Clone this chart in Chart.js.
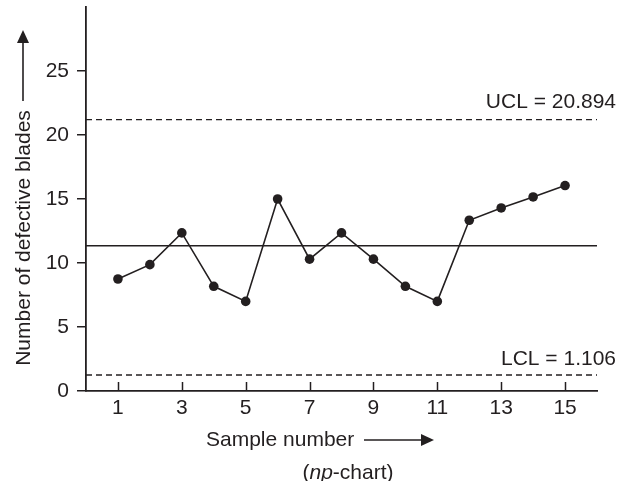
<!DOCTYPE html>
<html>
<head>
<meta charset="utf-8">
<script src="https://cdn.jsdelivr.net/npm/chart.js@4.4.1/dist/chart.umd.min.js"></script>
<style>
  html, body { margin: 0; padding: 0; background: #fff; }
  #wrap { width: 618px; height: 481px; }
</style>
</head>
<body>
<div id="wrap"><canvas id="npChart" width="618" height="481"></canvas></div>
<script>
// np-chart data
const samples = [1, 2, 3, 4, 5, 6, 7, 8, 9, 10, 11, 12, 13, 14, 15];
const defectives = [8.75, 9.87, 12.35, 8.18, 7.0, 15.0, 10.3, 12.35, 10.3, 8.18, 7.0, 13.34, 14.3, 15.16, 16.05];
const xTicks = [1, 3, 5, 7, 9, 11, 13, 15];
const yTicks = [0, 5, 10, 15, 20, 25];
const xRange = [0, 16];
const yRange = [0, 30];
const uclValue = 21.2;
const centerValue = 11.35;
const lclValue = 1.25;
const uclText = 'UCL = 20.894';
const lclText = 'LCL = 1.106';

const INK = '#231f20';
const FONT = '"Liberation Sans", Arial, sans-serif';
const SIZE = 21;

function hLine(y) {
  return xRange.map(x => ({ x: x, y: y }));
}

const points = samples.map((s, i) => ({ x: s, y: defectives[i] }));

function arrowHead(ctx, x, y, dir) {
  // dir: 'up' or 'right', tip at (x, y)
  ctx.beginPath();
  if (dir === 'up') {
    ctx.moveTo(x, y);
    ctx.lineTo(x - 6, y + 13);
    ctx.lineTo(x + 6, y + 13);
  } else {
    ctx.moveTo(x, y);
    ctx.lineTo(x - 13, y - 6);
    ctx.lineTo(x - 13, y + 6);
  }
  ctx.closePath();
  ctx.fill();
}

const extras = {
  id: 'extras',
  afterDraw(chart) {
    const ctx = chart.ctx;
    const xs = chart.scales.x;
    const ys = chart.scales.y;
    const area = chart.chartArea;
    ctx.save();
    ctx.strokeStyle = INK;
    ctx.fillStyle = INK;

    // inward tick marks on the x axis
    ctx.lineWidth = 1.5;
    xTicks.forEach(t => {
      const px = Math.round(xs.getPixelForValue(t)) + 0.5;
      ctx.beginPath();
      ctx.moveTo(px, area.bottom);
      ctx.lineTo(px, area.bottom - 9);
      ctx.stroke();
    });

    // control limit labels
    ctx.font = SIZE + 'px ' + FONT;
    ctx.textAlign = 'right';
    ctx.textBaseline = 'bottom';
    ctx.fillText(uclText, chart.width - 2, ys.getPixelForValue(uclValue) - 7);
    ctx.fillText(lclText, chart.width - 2, ys.getPixelForValue(lclValue) - 5);

    // y title with arrow
    ctx.save();
    ctx.translate(23, 238);
    ctx.rotate(-Math.PI / 2);
    ctx.textAlign = 'center';
    ctx.textBaseline = 'middle';
    ctx.fillText('Number of defective blades', 0, 1);
    ctx.restore();
    ctx.lineWidth = 1.6;
    ctx.beginPath();
    ctx.moveTo(23, 101);
    ctx.lineTo(23, 40);
    ctx.stroke();
    arrowHead(ctx, 23, 30, 'up');

    // x title with arrow
    const xMid = 440;
    ctx.textAlign = 'left';
    ctx.textBaseline = 'middle';
    ctx.fillText('Sample number', 206, xMid);
    ctx.beginPath();
    ctx.moveTo(364, xMid);
    ctx.lineTo(424, xMid);
    ctx.stroke();
    arrowHead(ctx, 434, xMid, 'right');

    // caption "(np-chart)"
    const parts = [
      { t: '(', f: SIZE + 'px ' + FONT },
      { t: 'np', f: 'italic ' + SIZE + 'px ' + FONT },
      { t: '-chart)', f: SIZE + 'px ' + FONT }
    ];
    let total = 0;
    parts.forEach(p => { ctx.font = p.f; total += ctx.measureText(p.t).width; });
    let cx = 348 - total / 2;
    parts.forEach(p => {
      ctx.font = p.f;
      ctx.fillText(p.t, cx, 473);
      cx += ctx.measureText(p.t).width;
    });

    ctx.restore();
  }
};

new Chart(document.getElementById('npChart'), {
  type: 'line',
  data: {
    datasets: [
      {
        label: 'defectives',
        data: points,
        borderColor: INK,
        backgroundColor: INK,
        borderWidth: 1.6,
        pointRadius: 4.8,
        pointBackgroundColor: INK,
        pointBorderWidth: 0,
        tension: 0
      },
      {
        label: 'UCL',
        data: hLine(uclValue),
        borderColor: INK,
        borderWidth: 1.4,
        borderDash: [6, 4],
        pointRadius: 0
      },
      {
        label: 'CL',
        data: hLine(centerValue),
        borderColor: INK,
        borderWidth: 1.4,
        pointRadius: 0
      },
      {
        label: 'LCL',
        data: hLine(lclValue),
        borderColor: INK,
        borderWidth: 1.4,
        borderDash: [6, 4],
        pointRadius: 0
      }
    ]
  },
  options: {
    responsive: false,
    animation: false,
    layout: { padding: { left: 0, right: 21, top: 7, bottom: 0 } },
    plugins: {
      legend: { display: false },
      tooltip: { enabled: false }
    },
    scales: {
      x: {
        type: 'linear',
        min: xRange[0],
        max: xRange[1],
        afterBuildTicks: s => { s.ticks = xTicks.map(v => ({ value: v })); },
        afterFit: s => { s.height = 90; s.paddingLeft = 0; s.paddingRight = 0; },
        grid: { display: true, drawOnChartArea: false, drawTicks: false },
        border: { display: true, color: INK, width: 1.8 },
        ticks: {
          color: INK,
          font: { family: FONT, size: SIZE },
          padding: 5,
          maxRotation: 0
        }
      },
      y: {
        type: 'linear',
        min: yRange[0],
        max: yRange[1],
        afterBuildTicks: s => { s.ticks = yTicks.map(v => ({ value: v })); },
        afterFit: s => { s.width = 86; s.paddingTop = 0; s.paddingBottom = 0; },
        grid: { display: true, drawOnChartArea: false, drawTicks: true, tickLength: 9, color: INK, lineWidth: 1.5 },
        border: { display: true, color: INK, width: 1.8 },
        ticks: {
          color: INK,
          font: { family: FONT, size: SIZE },
          padding: 8
        }
      }
    }
  },
  plugins: [extras]
});
</script>
</body>
</html>
